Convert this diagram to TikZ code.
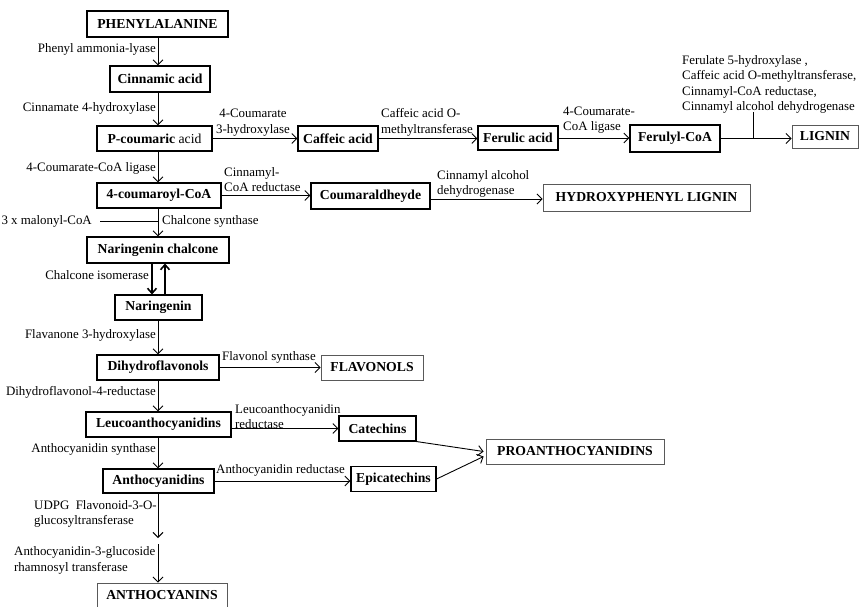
\documentclass[tikz,border=0pt]{standalone}
\usepackage{fontspec}
\setmainfont{Liberation Serif}
\usetikzlibrary{arrows.meta}
\begin{document}
\begin{tikzpicture}[x=1pt,y=-1pt,
  box/.style={draw,line width=1.1pt,inner sep=0pt,font=\fontsize{13.7}{15}\selectfont\bfseries},
  endbox/.style={draw=black!65,line width=0.8pt,inner sep=0pt,font=\fontsize{13.7}{15}\selectfont\bfseries},
  lab/.style={inner sep=1pt,font=\fontsize{12.9}{15.5}\selectfont},
  arr/.style={line width=0.9pt,-{Straight Barb[length=5pt,width=10pt,line width=0.9pt]}},
  ln/.style={line width=0.9pt},
  thk/.style={line width=2.2pt,-{Straight Barb[length=5pt,width=9pt,line width=1.6pt]}}]
\useasboundingbox (0,0) rectangle (859,607);
\coordinate (colx) at (158,0);
% nodes
\node[box,minimum width=141pt,minimum height=26pt] (phe) at (157.5,24) {PHENYLALANINE};
\node[box,minimum width=100pt,minimum height=26pt] (cin) at (160,79) {Cinnamic acid};
\node[box,minimum width=115pt,minimum height=25pt] (pco) at (154.5,138.5) {P-coumaric \mdseries acid};
\node[box,minimum width=80pt,minimum height=25pt] (caf) at (338,138.5) {Caffeic acid};
\node[box,minimum width=80pt,minimum height=24pt] (fer) at (518,138) {Ferulic acid};
\node[box,minimum width=90pt,minimum height=27pt] (fcoa) at (675,138.5) {Ferulyl-CoA};
\node[endbox,minimum width=66pt,minimum height=23pt] (lig) at (825,136.5) {LIGNIN};
\node[box,minimum width=124pt,minimum height=25pt] (coa) at (159,195.5) {4-coumaroyl-CoA};
\node[box,minimum width=119pt,minimum height=26pt] (cald) at (370.5,196) {Coumaraldheyde};
\node[endbox,minimum width=207pt,minimum height=27pt] (hpl) at (646.5,197.5) {HYDROXYPHENYL LIGNIN};
\node[box,minimum width=142pt,minimum height=26pt] (nc) at (158,250) {Naringenin chalcone};
\node[box,minimum width=87pt,minimum height=25pt] (nar) at (158.5,307.5) {Naringenin};
\node[box,minimum width=122pt,minimum height=25pt] (dhf) at (158,367.5) {Dihydroflavonols};
\node[endbox,minimum width=102pt,minimum height=25pt] (flv) at (372,367.5) {FLAVONOLS};
\node[box,minimum width=145pt,minimum height=25pt] (leu) at (158.5,424.5) {Leucoanthocyanidins};
\node[box,minimum width=77pt,minimum height=25pt] (cat) at (377.5,428.5) {Catechins};
\node[endbox,minimum width=178pt,minimum height=25pt] (pro) at (575,451.5) {PROANTHOCYANIDINS};
\node[box,minimum width=111pt,minimum height=24pt] (ant) at (158.5,481) {Anthocyanidins};
\node[box,minimum width=85pt,minimum height=25pt] (epi) at (393.5,479) {Epicatechins};
\node[endbox,minimum width=130pt,minimum height=24pt] (acy) at (162,595) {ANTHOCYANINS};
% labels
\node[lab,anchor=east] (l1) at (157,49) {Phenyl ammonia-lyase};
\node[lab,anchor=east] (l2) at (157,108) {Cinnamate 4-hydroxylase};
\node[lab,align=center] (l3) at (253,122.5) {4-Coumarate\\3-hydroxylase};
\node[lab,align=left,anchor=west] (l4) at (380,122.5) {Caffeic acid O-\\methyltransferase};
\node[lab,align=left,anchor=west] (l5) at (562,120) {4-Coumarate-\\CoA ligase};
\node[lab,align=left,anchor=west] (l6) at (681,84.5) {Ferulate 5-hydroxylase ,\\Caffeic acid O-methyltransferase,\\Cinnamyl-CoA reductase,\\Cinnamyl alcohol dehydrogenase};
\node[lab,anchor=east] (l7) at (157,168) {4-Coumarate-CoA ligase};
\node[lab,align=left,anchor=west] (l8) at (223,179.5) {Cinnamyl-\\CoA reductase};
\node[lab,align=left,anchor=west] (l9) at (436,184) {Cinnamyl alcohol\\dehydrogenase};
\node[lab,anchor=east] (mal) at (93,221) {3 x malonyl-CoA};
\node[lab,anchor=west] (l10) at (161,221) {Chalcone synthase};
\node[lab,anchor=east] (l11) at (150,275) {Chalcone isomerase};
\node[lab,anchor=east] (l12) at (157,335) {Flavanone 3-hydroxylase};
\node[lab,anchor=west] (l13) at (221,357) {Flavonol synthase};
\node[lab,anchor=east] (l14) at (157,392) {Dihydroflavonol-4-reductase};
\node[lab,align=left,anchor=west] (l15) at (234,416.5) {Leucoanthocyanidin\\ reductase};
\node[lab,anchor=east] (l16) at (157,449) {Anthocyanidin synthase};
\node[lab,anchor=west] (l17) at (215,470) {Anthocyanidin reductase};
\node[lab,align=left,anchor=west] (l18) at (33,514) {UDPG\ \ Flavonoid-3-O-\\glucosyltransferase};
\node[lab,align=left,anchor=west] (l19) at (13,560.5) {Anthocyanidin-3-glucoside\\rhamnosyl transferase};
% coordinates
\coordinate (tickT) at (753,112);
\coordinate (m1) at (158,538);
\coordinate (m2) at (158,544);
\coordinate (thkL) at (152,0);
\coordinate (thkR) at (165,0);
% vertical connectors
\draw[arr] (phe.south -| colx) -- (cin.north -| colx);
\draw[arr] (cin.south -| colx) -- (pco.north -| colx);
\draw[arr] (pco.south -| colx) -- (coa.north -| colx);
\draw[arr] (coa.south -| colx) -- (nc.north -| colx);
\draw[ln] ([xshift=7pt]mal.east) -- (mal.east -| colx);
\draw[thk] (nc.south -| thkL) -- (nar.north -| thkL);
\draw[thk] (nar.north -| thkR) -- (nc.south -| thkR);
\draw[arr] (nar.south -| colx) -- (dhf.north -| colx);
\draw[arr] (dhf.south -| colx) -- (leu.north -| colx);
\draw[arr] (leu.south -| colx) -- (ant.north -| colx);
\draw[arr] (ant.south -| colx) -- (m1);
\draw[arr] (m2) -- (acy.north -| colx);
% horizontal connectors
\draw[arr] (pco.east) -- (pco.east -| caf.west);
\draw[arr] (caf.east) -- (caf.east -| fer.west);
\draw[arr] (fer.east) -- (fer.east -| fcoa.west);
\draw[arr] (fcoa.east) -- (fcoa.east -| lig.west);
\draw[ln] (tickT) -- (tickT |- fcoa.east);
\draw[arr] (coa.east) -- (coa.east -| cald.west);
\draw[arr] ([yshift=-3pt]cald.east) -- ([yshift=-3pt]cald.east -| hpl.west);
\draw[arr] (dhf.east) -- (dhf.east -| flv.west);
\draw[arr] (cat.west -| leu.east) -- (cat.west);
\draw[arr] (ant.east) -- (ant.east -| epi.west);
\draw[arr] (cat.south east) -- ([xshift=-2pt]pro.west);
\draw[arr] (epi.east) -- ([xshift=-2pt,yshift=-5pt]pro.west);
\end{tikzpicture}
\end{document}
